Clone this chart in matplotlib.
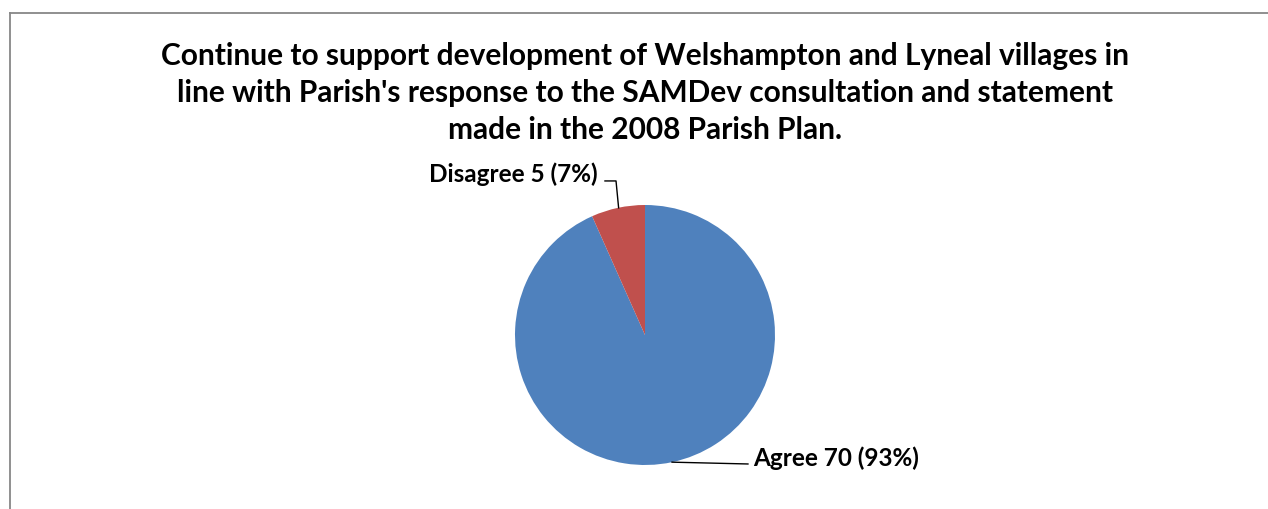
import numpy as np
import matplotlib
matplotlib.use("Agg")
import matplotlib.pyplot as plt
from matplotlib.lines import Line2D

# data
categories = ["Agree", "Disagree"]
counts = [70, 5]
colors = ["#4F81BD", "#C0504D"]
title = ("Continue to support development of Welshampton and Lyneal villages in\n"
         "line with Parish's response to the SAMDev consultation and statement\n"
         "made in the 2008 Parish Plan.")

W, H = 1268, 509
plt.rcParams['font.family'] = ['Lato', 'DejaVu Sans']
fig = plt.figure(figsize=(W / 100, H / 100), dpi=100)

# chart frame (only top and left edges fall inside the picture)
fx, fy = 9.5 / W, 1 - 12.5 / H
fig.add_artist(Line2D([fx, 1.0], [fy, fy], transform=fig.transFigure,
                      color="#878787", lw=1.3))
fig.add_artist(Line2D([fx, fx], [0, fy], transform=fig.transFigure,
                      color="#878787", lw=1.3))

fig.text(645 / W, 1 - 93 / H, title, ha="center", va="center",
         fontsize=21.5, fontweight="bold", linespacing=1.38)

# pie: centre (645, 335) px, radius 130 px
cx, cy, r = 645, 335, 130
ax = fig.add_axes([(cx - r) / W, (H - cy - r) / H, 2 * r / W, 2 * r / H])
wedges, _ = ax.pie(counts, colors=colors, startangle=90, counterclock=False,
                   radius=1, wedgeprops=dict(linewidth=0))
ax.set_xlim(-1, 1)
ax.set_ylim(-1, 1)
ax.set_aspect("equal")
ax.axis("off")

total = sum(counts)
labels = [f"{c} {n} ({round(100 * n / total)}%)" for c, n in zip(categories, counts)]

for w, lab in zip(wedges, labels):
    mid = np.deg2rad((w.theta1 + w.theta2) / 2)
    ex, ey = np.cos(mid), np.sin(mid)
    if ex < 0 and ey > 0:
        # label up-left, elbow leader
        ax.plot([ex + 0.005, ex - 0.015, ex - 0.1], [ey, 1.185, 1.185],
                color="black", lw=1, clip_on=False)
        ax.text(ex - 0.154, 1.24, lab, ha="right", va="center",
                fontsize=17.5, fontweight="bold", clip_on=False)
    else:
        ax.plot([ex, 0.792], [ey, ey - 0.014], color="black", lw=1, clip_on=False)
        ax.text(0.83, -0.95, lab, ha="left", va="center",
                fontsize=17.5, fontweight="bold", clip_on=False)

fig.savefig("out.png", dpi=100)
